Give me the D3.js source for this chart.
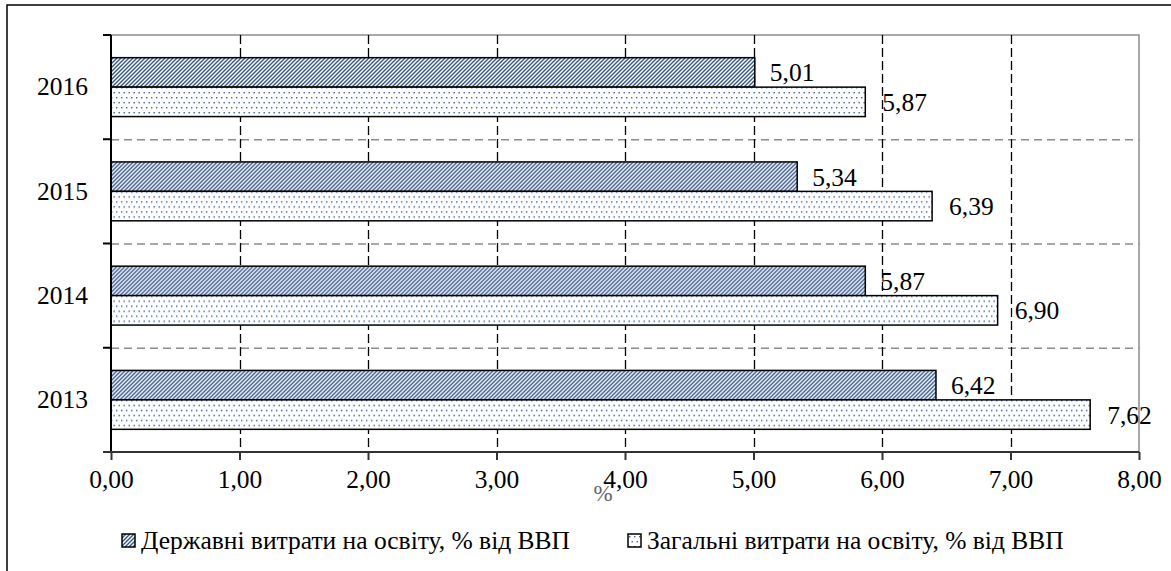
<!DOCTYPE html>
<html>
<head>
<meta charset="utf-8">
<script src="https://cdn.jsdelivr.net/npm/d3@7"></script>
<style>
  body { margin: 0; background: #fff; }
  svg text { font-family: 'Liberation Serif', 'Tinos', 'Times New Roman', 'DejaVu Serif', serif !important; fill: #000; }
</style>
</head>
<body>
<div class="container"></div>
<script>
// data
const years = ["2016", "2015", "2014", "2013"]
const govSpend = [5.01, 5.34, 5.87, 6.42]     // Державні витрати
const totalSpend = [5.87, 6.39, 6.90, 7.62]   // Загальні витрати
const seriesNames = ["Державні витрати на освіту, % від ВВП", "Загальні витрати на освіту, % від ВВП"]
const xTicks = [0, 1, 2, 3, 4, 5, 6, 7, 8]

const w = 1171
const h = 571
const padL = 111, padR = 1139, padT = 35, padB = 452
const serif = "'Liberation Serif', 'Tinos', 'Times New Roman', 'DejaVu Serif', serif"
const fs = '25.5px'

const rows = years.map((y, i) => ({ year: y, values: [govSpend[i], totalSpend[i]] }))

const svg = d3.select('.container')
  .append('svg')
  .attr('width', w)
  .attr('height', h)

// patterns
const defs = svg.append('defs')
const hatch = defs.append('pattern')
  .attr('id', 'hatch')
  .attr('patternUnits', 'userSpaceOnUse')
  .attr('width', 4).attr('height', 4)
hatch.append('rect').attr('width', 4).attr('height', 4).attr('fill', '#fff')
hatch.append('path')
  .attr('d', 'M-1,1 l2,-2 M0,4 l4,-4 M3,5 l2,-2')
  .attr('stroke', '#34558a').attr('stroke-width', 1.4)

const dots = defs.append('pattern')
  .attr('id', 'dots')
  .attr('patternUnits', 'userSpaceOnUse')
  .attr('width', 10).attr('height', 10)
dots.append('rect').attr('width', 10).attr('height', 10).attr('fill', '#fff')
;[[1, 2], [6, 2], [3.5, 7], [8.5, 7]].forEach(p => {
  dots.append('rect').attr('x', p[0]).attr('y', p[1]).attr('width', 1.4).attr('height', 1.4).attr('fill', '#3a5fa0')
})

const fills = ['url(#hatch)', 'url(#dots)']

// outer frame
svg.append('rect')
  .attr('x', 7).attr('y', 5)
  .attr('width', 1200).attr('height', 600)
  .attr('fill', 'none')
  .attr('stroke', '#000')
  .attr('stroke-width', 1.5)

// scales
const xScale = d3.scaleLinear().domain([0, 8]).range([padL, padR])
const yScale = d3.scaleBand().domain(years).range([padT, padB])
const ySub = d3.scaleBand().domain([0, 1]).range([0, yScale.bandwidth()]).paddingOuter(0.77)

// plot area border (gray top/right)
svg.append('path')
  .attr('d', `M${padL},${padT}H${padR}V${padB}`)
  .attr('fill', 'none')
  .attr('stroke', '#8c8c8c')
  .attr('stroke-width', 1.5)

// horizontal gridlines between categories
svg.append('g')
  .selectAll('line')
  .data(years.slice(1))
  .enter()
  .append('line')
  .attr('x1', padL).attr('x2', padR)
  .attr('y1', d => yScale(d) + 0.5).attr('y2', d => yScale(d) + 0.5)
  .attr('stroke', '#8c8c8c')
  .attr('stroke-width', 1.3)
  .attr('stroke-dasharray', '8,5')

// vertical gridlines
svg.append('g')
  .selectAll('line')
  .data(xTicks.slice(1, -1))
  .enter()
  .append('line')
  .attr('x1', d => Math.round(xScale(d)) + 0.5).attr('x2', d => Math.round(xScale(d)) + 0.5)
  .attr('y1', padT).attr('y2', padB)
  .attr('stroke', '#000')
  .attr('stroke-width', 1.3)
  .attr('stroke-dasharray', '9,4')

// bars
const groups = svg.append('g')
  .selectAll('g')
  .data(rows)
  .enter()
  .append('g')
  .attr('transform', d => 'translate(0,' + yScale(d.year) + ')')

groups.selectAll('rect')
  .data(d => d.values)
  .enter()
  .append('rect')
  .attr('x', xScale(0))
  .attr('y', (d, i) => ySub(i))
  .attr('width', d => xScale(d) - xScale(0))
  .attr('height', ySub.bandwidth())
  .attr('fill', (d, i) => fills[i])
  .attr('stroke', '#000')
  .attr('stroke-width', 1.5)

// value labels
const labelGap = [15, 17]
groups.selectAll('text.val')
  .data(d => d.values)
  .enter()
  .append('text')
  .attr('class', 'val')
  .attr('x', (d, i) => xScale(d) + labelGap[i])
  .attr('y', (d, i) => ySub(i) + ySub.bandwidth() / 2)
  .attr('dy', '0.35em')
  .attr('font-family', serif)
  .style('font-size', fs)
  .text(d => d.toFixed(2).replace('.', ','))

// y axis
const yAxis = d3.axisLeft(yScale).tickSize(0).tickPadding(23)
const yg = svg.append('g')
  .attr('transform', 'translate(' + padL + ',0)')
  .call(yAxis)
  .attr('font-family', serif)
yg.select('.domain').remove()
yg.selectAll('text').style('font-size', fs)
yg.append('line').attr('x1', 0).attr('x2', 0).attr('y1', padT).attr('y2', padB).attr('stroke', '#000').attr('stroke-width', 2)
yg.selectAll('line.tk')
  .data(years.map(y => yScale(y)).concat([padB]))
  .enter()
  .append('line')
  .attr('class', 'tk')
  .attr('x1', -8).attr('x2', 0)
  .attr('y1', d => d).attr('y2', d => d)
  .attr('stroke', '#000').attr('stroke-width', 2)

// x axis
const xAxis = d3.axisBottom(xScale)
  .tickValues(xTicks)
  .tickSize(8)
  .tickSizeOuter(0)
  .tickPadding(10)
  .tickFormat(d => d3.format('.2f')(d).replace('.', ','))
const xg = svg.append('g')
  .attr('transform', 'translate(0,' + padB + ')')
  .call(xAxis)
  .attr('font-family', serif)
xg.select('.domain').attr('stroke', '#333').attr('stroke-width', 2).attr('d', `M${padL - 8},0H${padR}`)
xg.selectAll('.tick line').attr('stroke', '#333').attr('stroke-width', 2)
xg.selectAll('text').style('font-size', fs)

// axis title
svg.append('text')
  .attr('x', 603).attr('y', 501)
  .attr('text-anchor', 'middle')
  .attr('font-family', serif)
  .style('font-size', '23px')
  .style('fill', '#666')
  .text('%')

// legend
const legendX = [122, 628]
const legend = svg.append('g').attr('class', 'legend')
const items = legend.selectAll('g')
  .data(seriesNames)
  .enter()
  .append('g')
  .attr('transform', (d, i) => 'translate(' + legendX[i] + ',534)')
items.append('rect')
  .attr('width', 13).attr('height', 13)
  .attr('fill', (d, i) => fills[i])
  .attr('stroke', '#000').attr('stroke-width', 1.5)
items.append('text')
  .attr('x', 19).attr('y', 15)
  .attr('font-family', serif)
  .style('font-size', fs)
  .text(d => d)
</script>
</body>
</html>
